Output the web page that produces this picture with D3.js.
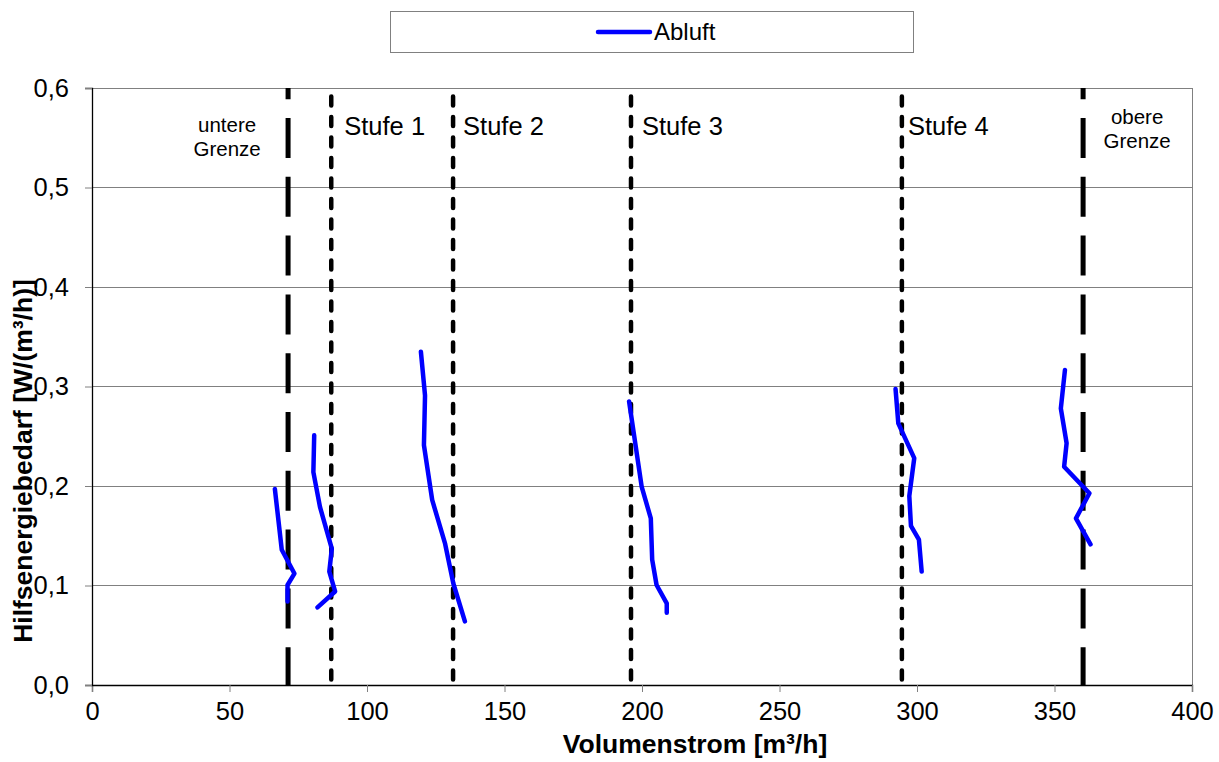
<!DOCTYPE html>
<html><head><meta charset="utf-8">
<script src="https://cdn.jsdelivr.net/npm/d3@7/dist/d3.min.js"></script>
<style>body{margin:0;background:#fff;} svg{display:block;font-family:"Liberation Sans",Arial,sans-serif;}</style>
</head><body>
<svg id="chart" width="1219" height="762"></svg>
<script>
// ---- data ----
const xTicks = [0, 50, 100, 150, 200, 250, 300, 350, 400];
const yTicks = [0, 0.1, 0.2, 0.3, 0.4, 0.5, 0.6];
const seriesName = "Abluft";
const abluftUntere = [[66.5,0.197],[69.0,0.136],[73.6,0.112],[71.1,0.1005],[71.1,0.084]];
const abluftStufe1 = [[80.8,0.251],[80.5,0.214],[82.9,0.179],[87.2,0.137],[86.3,0.114],[88.4,0.094],[82.0,0.078]];
const abluftStufe2 = [[119.6,0.335],[121.1,0.291],[120.7,0.241],[123.7,0.186],[128.4,0.142],[131.4,0.102],[135.6,0.064]];
const abluftStufe3 = [[195.3,0.285],[199.9,0.199],[203.2,0.1675],[203.7,0.126],[205.3,0.1005],[209.0,0.082],[209.0,0.0727]];
const abluftStufe4 = [[292.2,0.2975],[293.2,0.263],[299.0,0.228],[297.2,0.19],[297.8,0.16],[300.7,0.146],[301.7,0.114]];
const abluftObere  = [[353.8,0.3166],[352.3,0.278],[354.4,0.243],[353.5,0.2194],[362.7,0.1927],[357.8,0.1675],[363.1,0.1414]];
const markerValues = [71.3, 87, 131.3, 196, 294.5, 360.4];
const markerKinds  = ["limit", "stage", "stage", "stage", "stage", "limit"];
const markerLabels = [["untere","Grenze"], ["Stufe 1"], ["Stufe 2"], ["Stufe 3"], ["Stufe 4"], ["obere","Grenze"]];
const xTitle = "Volumenstrom [m³/h]";
const yTitle = "Hilfsenergiebedarf [W/(m³/h)]";

// ---- layout ----
const svg = d3.select("#chart");
const L = 92, R = 1192, T = 88, B = 685;
const labelDx = [-61, 13, 10, 11, 6, 54];
const x = d3.scaleLinear().domain([0, 400]).range([L, R]);
const y = d3.scaleLinear().domain([0, 0.6]).range([B, T]);
const fmt = d => d3.format(".1f")(d).replace(".", ",");

// gridlines
svg.append("g").selectAll("line").data(yTicks.filter(d => d > 0)).join("line")
  .attr("x1", L).attr("x2", R).attr("y1", d => y(d)).attr("y2", d => y(d))
  .attr("stroke", "#808080").attr("stroke-width", 1).attr("shape-rendering", "crispEdges");
// right border
svg.append("line").attr("x1", R).attr("x2", R).attr("y1", T).attr("y2", B)
  .attr("stroke", "#808080").attr("stroke-width", 1).attr("shape-rendering", "crispEdges");

// axes
const xAxis = svg.append("g").attr("transform", `translate(0,${B})`)
  .call(d3.axisBottom(x).tickValues(xTicks).tickSize(7).tickPadding(10).tickFormat(d3.format("d")));
const yAxis = svg.append("g").attr("transform", `translate(${L},0)`)
  .call(d3.axisLeft(y).tickValues(yTicks).tickSize(7).tickPadding(16).tickFormat(fmt));
[xAxis, yAxis].forEach(g => {
  g.select(".domain").attr("stroke", "#000").attr("stroke-width", 1.3);
  g.selectAll(".tick line").attr("stroke", "#808080");
  g.selectAll("text").attr("font-family", "Liberation Sans, Arial, sans-serif")
    .attr("font-size", 25.5).attr("fill", "#000");
});

// marker lines
const mk = svg.append("g");
markerValues.forEach((v, i) => {
  const limit = markerKinds[i] === "limit";
  mk.append("line").attr("x1", x(v)).attr("x2", x(v)).attr("y1", T).attr("y2", B)
    .attr("stroke", "#000")
    .attr("stroke-width", limit ? 5 : 4.5)
    .attr("stroke-linecap", limit ? "butt" : "round")
    .attr("stroke-dasharray", limit ? "40,18.8" : "9,11.5")
    .attr("stroke-dashoffset", limit ? 28.8 : 12);
});

// marker labels
markerLabels.forEach((lines, i) => {
  const px = x(markerValues[i]);
  if (lines.length === 1) {
    svg.append("text").attr("x", px + labelDx[i]).attr("y", 135)
      .attr("font-size", 25.5).text(lines[0]);
  } else {
    const cx = px + labelDx[i];
    const by = i === 0 ? 132 : 124;
    lines.forEach((t, j) => svg.append("text").attr("x", cx).attr("y", by + j * 24)
      .attr("text-anchor", "middle").attr("font-size", 20.5).text(t));
  }
});

// series
const line = d3.line().x(d => x(d[0])).y(d => y(d[1]));
[abluftUntere, abluftStufe1, abluftStufe2, abluftStufe3, abluftStufe4, abluftObere].forEach(seg => {
  svg.append("path").datum(seg).attr("d", line)
    .attr("fill", "none").attr("stroke", "#0000ff").attr("stroke-width", 4.5)
    .attr("stroke-linejoin", "round").attr("stroke-linecap", "round");
});

// legend
const lg = svg.append("g");
lg.append("rect").attr("x", 390.5).attr("y", 11.5).attr("width", 523).attr("height", 41)
  .attr("fill", "#fff").attr("stroke", "#808080").attr("stroke-width", 1);
lg.append("line").attr("x1", 598).attr("x2", 650).attr("y1", 32).attr("y2", 32)
  .attr("stroke", "#0000ff").attr("stroke-width", 4.5).attr("stroke-linecap", "round");
lg.append("text").attr("x", 654).attr("y", 40).attr("font-size", 24).text(seriesName);

// axis titles
svg.append("text").attr("x", 695).attr("y", 753).attr("text-anchor", "middle")
  .attr("font-size", 26.5).attr("font-weight", "bold").text(xTitle);
svg.append("text").attr("transform", "translate(32,461) rotate(-90)").attr("text-anchor", "middle")
  .attr("font-size", 26.5).attr("font-weight", "bold").text(yTitle);
</script>
</body></html>
